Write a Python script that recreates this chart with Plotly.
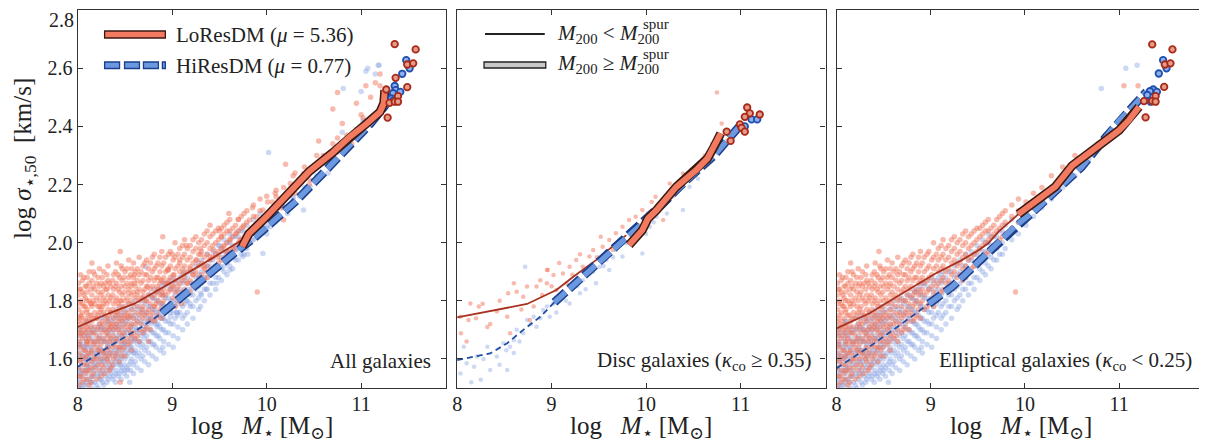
import plotly.graph_objects as go

# The page body keeps its default 8px margin: the figure is sized so that it
# exactly fills the rest of the 1207x445 window, and window pixels are mapped below.
OFF = 8
W, H = 1207 - OFF, 445 - OFF
FONT = "'Liberation Serif', 'DejaVu Serif', serif"

# ---------------- data ----------------
X_TICKS = [8, 9, 10, 11]
Y_TICKS = [1.6, 1.8, 2.0, 2.2, 2.4, 2.6, 2.8]
X_RANGE = [8, 11.9]
Y_RANGE = [1.5, 2.8005]

# Elliptical galaxies cloud, LoResDM (x column, y values)
ELL_LO = [
    (8.01, [1.51, 1.57, 1.62, 1.66, 1.70, 1.73, 1.77, 1.82, 1.86]),
    (8.02, [1.54, 1.60, 1.65, 1.69, 1.74, 1.79, 1.84]),
    (8.03, [1.54, 1.59, 1.64, 1.68, 1.72, 1.75, 1.80, 1.84, 1.89]),
    (8.05, [1.52, 1.56, 1.61, 1.67, 1.71, 1.76, 1.79, 1.83, 1.87]),
    (8.065, [1.53, 1.58, 1.63, 1.70, 1.73, 1.78, 1.82, 1.88]),
    (8.08, [1.55, 1.60, 1.63, 1.69, 1.74, 1.78, 1.81, 1.85]),
    (8.095, [1.56, 1.61, 1.66, 1.71, 1.76, 1.80, 1.85]),
    (8.10, [1.53, 1.58, 1.65, 1.68, 1.72, 1.77, 1.83, 1.88]),
    (8.12, [1.51, 1.56, 1.62, 1.67, 1.70, 1.75, 1.80, 1.86, 1.90]),
    (8.14, [1.52, 1.57, 1.62, 1.66, 1.71, 1.75, 1.79, 1.84]),
    (8.15, [1.54, 1.59, 1.63, 1.69, 1.73, 1.78, 1.82, 1.87]),
    (8.165, [1.55, 1.60, 1.65, 1.69, 1.74, 1.80, 1.85, 1.90]),
    (8.18, [1.57, 1.61, 1.66, 1.71, 1.76, 1.79, 1.84, 1.89]),
    (8.20, [1.53, 1.60, 1.64, 1.68, 1.74, 1.81, 1.86]),
    (8.215, [1.58, 1.63, 1.66, 1.70, 1.75, 1.78, 1.83, 1.88]),
    (8.23, [1.56, 1.62, 1.67, 1.72, 1.76, 1.80, 1.85, 1.91]),
    (8.245, [1.54, 1.60, 1.65, 1.71, 1.77, 1.82, 1.86]),
    (8.26, [1.58, 1.63, 1.69, 1.73, 1.78, 1.83, 1.88]),
    (8.275, [1.57, 1.62, 1.67, 1.72, 1.76, 1.81, 1.85, 1.90]),
    (8.29, [1.55, 1.61, 1.66, 1.70, 1.75, 1.80, 1.86]),
    (8.31, [1.60, 1.63, 1.69, 1.74, 1.79, 1.84, 1.89]),
    (8.32, [1.59, 1.64, 1.68, 1.73, 1.77, 1.82, 1.87, 1.92]),
    (8.335, [1.56, 1.61, 1.66, 1.70, 1.75, 1.80, 1.86]),
    (8.35, [1.57, 1.62, 1.67, 1.71, 1.76, 1.81, 1.85]),
    (8.37, [1.58, 1.64, 1.68, 1.72, 1.77, 1.82, 1.87]),
    (8.38, [1.60, 1.65, 1.70, 1.74, 1.79, 1.84, 1.89]),
    (8.40, [1.61, 1.66, 1.71, 1.75, 1.80, 1.85, 1.90]),
    (8.41, [1.62, 1.67, 1.72, 1.76, 1.81, 1.86, 1.93]),
    (8.43, [1.64, 1.70, 1.73, 1.79, 1.84, 1.89]),
    (8.44, [1.59, 1.64, 1.69, 1.74, 1.78, 1.83, 1.88]),
    (8.46, [1.61, 1.66, 1.71, 1.75, 1.80, 1.85, 1.92]),
    (8.47, [1.63, 1.68, 1.73, 1.77, 1.82, 1.87, 1.91]),
    (8.49, [1.64, 1.69, 1.74, 1.78, 1.83, 1.88]),
    (8.50, [1.61, 1.66, 1.71, 1.75, 1.80, 1.85, 1.90]),
    (8.52, [1.67, 1.72, 1.76, 1.81, 1.86, 1.91]),
    (8.54, [1.65, 1.70, 1.74, 1.79, 1.84, 1.88, 1.94]),
    (8.56, [1.66, 1.71, 1.75, 1.80, 1.85, 1.89]),
    (8.57, [1.63, 1.68, 1.72, 1.77, 1.82, 1.86, 1.91]),
    (8.59, [1.69, 1.74, 1.79, 1.83, 1.88, 1.93]),
    (8.61, [1.67, 1.72, 1.76, 1.81, 1.85, 1.90]),
    (8.63, [1.68, 1.73, 1.78, 1.82, 1.87, 1.91]),
    (8.65, [1.66, 1.70, 1.75, 1.80, 1.84, 1.89, 1.95]),
    (8.67, [1.72, 1.76, 1.81, 1.86, 1.90]),
    (8.69, [1.69, 1.74, 1.78, 1.83, 1.87, 1.92]),
    (8.71, [1.70, 1.75, 1.80, 1.84, 1.89, 1.93]),
    (8.73, [1.71, 1.76, 1.80, 1.85, 1.89, 1.94]),
    (8.75, [1.73, 1.77, 1.82, 1.87, 1.91]),
    (8.77, [1.70, 1.75, 1.79, 1.84, 1.88, 1.93]),
    (8.79, [1.76, 1.81, 1.85, 1.90, 1.95]),
    (8.81, [1.73, 1.78, 1.82, 1.87, 1.91, 1.96]),
    (8.83, [1.74, 1.79, 1.83, 1.88, 1.92]),
    (8.85, [1.75, 1.80, 1.84, 1.88, 1.93]),
    (8.87, [1.77, 1.82, 1.86, 1.90, 1.95]),
    (8.89, [1.74, 1.79, 1.83, 1.87, 1.92, 1.97]),
    (8.91, [1.80, 1.84, 1.88, 1.93]),
    (8.93, [1.77, 1.82, 1.86, 1.90, 1.95]),
    (8.96, [1.78, 1.83, 1.87, 1.91, 1.96]),
    (8.98, [1.79, 1.84, 1.88, 1.92, 1.97]),
    (9.01, [1.81, 1.85, 1.89, 1.94]),
    (9.03, [1.78, 1.83, 1.87, 1.91, 1.95, 2.00]),
    (9.06, [1.80, 1.85, 1.92, 1.96]),
    (9.08, [1.82, 1.86, 1.90, 1.94, 1.98]),
    (9.11, [1.83, 1.87, 1.91, 1.95, 1.99]),
    (9.13, [1.84, 1.88, 1.92, 1.96, 2.01]),
    (9.16, [1.86, 1.90, 1.94, 1.98]),
    (9.19, [1.83, 1.87, 1.91, 1.95, 1.99]),
    (9.22, [1.85, 1.89, 1.93, 1.97, 2.01]),
    (9.25, [1.86, 1.90, 1.94, 1.98, 2.02]),
    (9.28, [1.88, 1.92, 1.96, 2.00]),
    (9.31, [1.89, 1.93, 1.97, 2.01]),
    (9.34, [1.87, 1.91, 1.95, 1.99, 2.03]),
    (9.37, [1.88, 1.92, 1.96, 2.00, 2.04]),
    (9.40, [1.90, 1.94, 1.98, 2.02]),
    (9.43, [1.91, 1.95, 1.99, 2.03]),
    (9.46, [1.92, 1.96, 2.00, 2.04]),
    (9.49, [1.93, 1.97, 2.01, 2.05]),
    (9.52, [1.94, 1.98, 2.02, 2.05]),
    (9.55, [1.95, 1.99, 2.03, 2.06]),
    (9.58, [1.96, 2.00, 2.04, 2.07]),
    (9.61, [1.97, 2.01, 2.04, 2.08]),
    (9.64, [1.98, 2.02, 2.05]),
    (9.67, [1.99, 2.03, 2.06]),
    (9.70, [2.00, 2.04, 2.08]),
    (9.73, [2.01, 2.05, 2.09]),
    (9.76, [2.02, 2.06, 2.10]),
    (9.79, [2.03, 2.07, 2.11]),
    (9.86, [2.05, 2.09, 2.13]),
    (9.93, [2.07, 2.11, 2.15]),
    (10.01, [2.10, 2.14]),
    (10.09, [2.12, 2.17]),
    (10.18, [2.15, 2.19]),
    (10.28, [2.18, 2.23]),
    (10.40, [2.22, 2.26]),
    (10.53, [2.26, 2.30]),
    (10.68, [2.31]),
    (10.85, [2.37]),
    (11.02, [2.43]),
    (11.05, [2.54]),
    (11.20, [2.54]),
    (9.90, [1.83]),
    (8.45, [1.97]),
    (8.15, [1.93]),
]

# Elliptical galaxies cloud, HiResDM
ELL_HI = [
    (8.01, [1.50, 1.53, 1.57, 1.60, 1.64, 1.68]),
    (8.02, [1.52, 1.56, 1.61, 1.65, 1.70]),
    (8.03, [1.51, 1.55, 1.59, 1.62, 1.66, 1.71]),
    (8.05, [1.50, 1.54, 1.58, 1.61, 1.65, 1.69]),
    (8.065, [1.51, 1.56, 1.60, 1.64, 1.68]),
    (8.08, [1.52, 1.56, 1.60, 1.63, 1.67, 1.72]),
    (8.095, [1.53, 1.57, 1.61, 1.65, 1.69, 1.73]),
    (8.10, [1.51, 1.55, 1.58, 1.62, 1.66, 1.70]),
    (8.12, [1.53, 1.57, 1.61, 1.64, 1.68, 1.73]),
    (8.14, [1.52, 1.56, 1.60, 1.64, 1.69]),
    (8.15, [1.50, 1.54, 1.59, 1.63, 1.67, 1.71]),
    (8.165, [1.54, 1.58, 1.62, 1.66, 1.70]),
    (8.18, [1.52, 1.56, 1.60, 1.65, 1.69, 1.74]),
    (8.20, [1.51, 1.55, 1.58, 1.62, 1.66, 1.70]),
    (8.215, [1.50, 1.54, 1.59, 1.63, 1.67, 1.71]),
    (8.23, [1.53, 1.57, 1.61, 1.64, 1.68, 1.72]),
    (8.245, [1.55, 1.59, 1.63, 1.66, 1.70, 1.74]),
    (8.26, [1.52, 1.56, 1.60, 1.63, 1.67, 1.71, 1.75]),
    (8.275, [1.51, 1.55, 1.59, 1.62, 1.66, 1.70]),
    (8.29, [1.54, 1.58, 1.62, 1.66, 1.70, 1.74]),
    (8.31, [1.52, 1.56, 1.60, 1.64, 1.68, 1.72]),
    (8.32, [1.53, 1.57, 1.61, 1.65, 1.69, 1.73]),
    (8.335, [1.54, 1.58, 1.62, 1.66, 1.70, 1.74]),
    (8.35, [1.55, 1.59, 1.63, 1.67, 1.71, 1.76]),
    (8.37, [1.53, 1.57, 1.61, 1.65, 1.69, 1.73]),
    (8.38, [1.54, 1.58, 1.62, 1.66, 1.70, 1.74]),
    (8.40, [1.52, 1.55, 1.59, 1.63, 1.67, 1.71, 1.75]),
    (8.41, [1.56, 1.60, 1.64, 1.68, 1.72, 1.77]),
    (8.43, [1.54, 1.58, 1.62, 1.66, 1.70, 1.74]),
    (8.44, [1.55, 1.59, 1.63, 1.67, 1.71, 1.75]),
    (8.46, [1.53, 1.56, 1.60, 1.64, 1.68, 1.72, 1.76]),
    (8.47, [1.57, 1.61, 1.65, 1.69, 1.73, 1.78]),
    (8.49, [1.55, 1.58, 1.62, 1.66, 1.70, 1.74]),
    (8.50, [1.56, 1.60, 1.64, 1.68, 1.72, 1.76]),
    (8.52, [1.54, 1.57, 1.61, 1.65, 1.69, 1.73, 1.77]),
    (8.54, [1.58, 1.62, 1.66, 1.70, 1.74, 1.79]),
    (8.56, [1.56, 1.59, 1.63, 1.67, 1.71, 1.75]),
    (8.57, [1.60, 1.64, 1.68, 1.72, 1.77]),
    (8.59, [1.55, 1.58, 1.62, 1.66, 1.70, 1.74, 1.78]),
    (8.61, [1.59, 1.63, 1.67, 1.71, 1.75, 1.80]),
    (8.63, [1.57, 1.61, 1.65, 1.69, 1.73, 1.77]),
    (8.65, [1.62, 1.66, 1.70, 1.74, 1.78]),
    (8.67, [1.56, 1.60, 1.64, 1.68, 1.72, 1.76, 1.80]),
    (8.69, [1.61, 1.65, 1.69, 1.73, 1.77, 1.81]),
    (8.71, [1.59, 1.63, 1.67, 1.71, 1.75, 1.79]),
    (8.73, [1.64, 1.68, 1.72, 1.76, 1.80]),
    (8.75, [1.58, 1.62, 1.66, 1.70, 1.74, 1.78, 1.82]),
    (8.77, [1.66, 1.70, 1.74, 1.78, 1.82]),
    (8.79, [1.61, 1.65, 1.69, 1.73, 1.77, 1.81]),
    (8.81, [1.65, 1.69, 1.73, 1.77, 1.81, 1.84]),
    (8.83, [1.60, 1.64, 1.68, 1.72, 1.76, 1.80, 1.83]),
    (8.85, [1.68, 1.72, 1.76, 1.80, 1.83]),
    (8.87, [1.63, 1.67, 1.71, 1.75, 1.79, 1.84]),
    (8.89, [1.70, 1.74, 1.78, 1.82, 1.85]),
    (8.91, [1.62, 1.66, 1.70, 1.74, 1.78, 1.82, 1.86]),
    (8.93, [1.69, 1.73, 1.77, 1.81, 1.86]),
    (8.96, [1.65, 1.69, 1.73, 1.77, 1.81, 1.85]),
    (8.98, [1.72, 1.76, 1.80, 1.84, 1.87]),
    (9.01, [1.64, 1.68, 1.72, 1.76, 1.80, 1.84, 1.88]),
    (9.03, [1.74, 1.78, 1.82, 1.86]),
    (9.06, [1.67, 1.71, 1.75, 1.79, 1.83, 1.87]),
    (9.08, [1.76, 1.80, 1.84, 1.88]),
    (9.11, [1.70, 1.74, 1.78, 1.82, 1.86, 1.89]),
    (9.13, [1.75, 1.79, 1.83, 1.87, 1.90]),
    (9.16, [1.72, 1.76, 1.80, 1.84, 1.88]),
    (9.19, [1.78, 1.82, 1.86, 1.90]),
    (9.22, [1.74, 1.78, 1.82, 1.86, 1.90]),
    (9.25, [1.80, 1.84, 1.88, 1.92]),
    (9.28, [1.77, 1.81, 1.85, 1.89, 1.93]),
    (9.31, [1.82, 1.86, 1.90, 1.94]),
    (9.34, [1.80, 1.84, 1.88, 1.92]),
    (9.37, [1.84, 1.88, 1.92, 1.96]),
    (9.40, [1.82, 1.86, 1.90, 1.94]),
    (9.43, [1.86, 1.90, 1.94, 1.97]),
    (9.46, [1.84, 1.88, 1.92, 1.96]),
    (9.49, [1.88, 1.92, 1.96, 1.99]),
    (9.52, [1.87, 1.91, 1.95, 1.98]),
    (9.55, [1.90, 1.94, 1.97, 2.01]),
    (9.58, [1.89, 1.93, 1.97, 2.00]),
    (9.61, [1.92, 1.96, 2.00, 2.03]),
    (9.64, [1.91, 1.95, 1.99, 2.02]),
    (9.67, [1.94, 1.98, 2.02]),
    (9.70, [1.94, 1.98, 2.02]),
    (9.73, [1.96, 2.00, 2.04]),
    (9.76, [1.96, 2.00, 2.04]),
    (9.79, [1.98, 2.02, 2.06]),
    (9.86, [2.01, 2.05, 2.08]),
    (9.93, [2.03, 2.07, 2.10]),
    (10.01, [2.06, 2.10]),
    (10.09, [2.09, 2.13]),
    (10.18, [2.12, 2.16]),
    (10.28, [2.15, 2.19]),
    (10.40, [2.19, 2.23]),
    (10.53, [2.23, 2.27]),
    (10.68, [2.29]),
    (10.85, [2.35]),
    (11.02, [2.42]),
    (10.81, [2.53]),
    (11.07, [2.60]),
    (11.19, [2.61]),
    (8.55, [1.52]),
    (8.90, [1.64]),
    (9.30, [1.78]),
]

# Disc galaxies cloud (x, y)
DISC_LO = [
    (8.035, 1.745), (8.14, 1.791), (8.23, 1.78), (8.27, 1.79), (8.12, 1.734), (8.35, 1.72),
    (8.04, 1.688), (8.10, 1.66), (8.42, 1.763), (8.54, 1.826), (8.63, 1.831), (8.70, 1.814),
    (8.74, 1.849), (8.84, 1.849), (8.88, 1.871), (8.95, 1.86), (9.02, 1.889), (8.96, 1.906),
    (9.12, 1.894), (9.19, 1.917), (9.26, 1.94), (9.33, 1.917), (9.40, 1.952), (9.44, 1.975),
    (9.54, 1.986), (9.61, 2.009), (9.68, 2.032), (9.75, 2.055), (9.82, 2.078), (9.89, 2.089),
    (9.65, 1.975), (8.81, 1.78), (8.53, 1.745), (8.32, 1.71), (8.56, 1.688), (8.77, 1.734),
    (9.05, 1.837), (9.16, 1.86), (8.95, 1.906), (9.96, 2.112), (10.10, 2.158), (10.25, 2.204),
    (10.39, 2.238), (10.46, 2.215), (10.18, 2.078), (10.55, 2.27), (10.62, 2.30), (10.70, 2.34),
    (10.80, 2.41), (10.75, 2.517), (9.08, 1.93), (9.22, 1.89), (9.30, 1.96), (9.36, 1.90),
    (9.48, 1.95), (9.52, 2.02), (9.58, 1.97), (9.72, 2.01), (9.85, 2.04), (9.92, 2.06),
    (10.02, 2.10), (10.06, 2.14), (10.15, 2.12), (10.30, 2.17), (8.90, 1.82), (8.60, 1.86),
    (8.45, 1.80), (8.20, 1.74), (8.68, 1.77), (9.00, 1.85),
]
DISC_HI = [
    (8.035, 1.55), (8.10, 1.585), (8.18, 1.573), (8.21, 1.608), (8.07, 1.642), (8.32, 1.642),
    (8.42, 1.608), (8.49, 1.654), (8.53, 1.562), (8.56, 1.642), (8.60, 1.665), (8.63, 1.70),
    (8.70, 1.688), (8.74, 1.734), (8.72, 1.917), (8.81, 1.745), (8.84, 1.711), (8.91, 1.768),
    (8.98, 1.745), (9.02, 1.791), (9.09, 1.803), (9.12, 1.826), (9.19, 1.791), (9.23, 1.849),
    (9.30, 1.826), (9.33, 1.871), (9.40, 1.894), (9.47, 1.86), (9.51, 1.917), (9.58, 1.94),
    (9.61, 1.906), (9.68, 1.975), (9.75, 1.952), (9.79, 1.998), (9.89, 2.032), (9.96, 1.963),
    (10.04, 2.055), (10.11, 2.089), (10.18, 2.124), (10.28, 2.158), (10.39, 2.112), (10.46, 2.192),
    (8.35, 1.562), (8.25, 1.528), (10.55, 2.22), (10.65, 2.27), (10.75, 2.31), (10.85, 2.35),
    (10.95, 2.39), (8.60, 1.62), (8.66, 1.66), (8.78, 1.72), (8.88, 1.74), (8.95, 1.78),
    (9.05, 1.76), (9.15, 1.80), (9.27, 1.85), (9.36, 1.84), (9.44, 1.90), (9.55, 1.92),
    (9.65, 1.95), (9.71, 1.99), (9.85, 2.01), (9.92, 2.05), (10.00, 2.03), (10.08, 2.07),
    (10.22, 2.10), (8.45, 1.58), (8.52, 1.63), (8.15, 1.52), (8.28, 1.60),
]

# Intermediate galaxies (only in "All galaxies")
INT_LO = [
    (9.30, 1.98), (9.50, 2.04), (9.70, 2.08), (9.85, 2.12), (10.00, 2.16), (10.10, 2.18),
    (10.30, 2.24), (10.45, 2.20), (10.60, 2.30), (10.75, 2.36), (10.90, 2.34), (11.00, 2.44),
    (11.10, 2.50), (10.70, 2.46), (11.15, 2.55), (8.30, 1.84), (8.60, 1.89), (9.00, 1.96),
    (8.90, 2.02), (9.15, 1.99), (9.40, 2.06), (9.60, 2.10), (10.20, 2.27), (10.55, 2.35),
    (10.95, 2.48), (11.20, 2.58), (8.45, 1.52), (8.75, 1.66), (9.10, 1.79),
]
INT_HI = [
    (9.40, 1.92), (9.60, 1.96), (9.80, 1.96), (10.00, 2.05), (10.20, 2.12), (10.35, 2.16),
    (10.50, 2.26), (10.65, 2.24), (10.80, 2.38), (10.95, 2.36), (11.00, 2.52), (11.15, 2.58),
    (10.02, 2.31), (11.18, 2.61), (11.05, 2.59), (9.05, 1.76), (8.70, 1.70), (9.20, 1.84),
    (9.50, 1.99), (9.70, 2.04), (10.10, 2.09), (10.40, 2.22), (10.70, 2.30), (8.40, 1.66),
    (8.90, 1.79),
]

# Median lines: thin part (M200 < M200spur) and thick part (M200 >= M200spur)
P1_LO_THIN_X = [8.0, 8.33, 8.6, 8.86, 9.04, 9.39, 9.63, 9.74]
P1_LO_THIN_Y = [1.71, 1.757, 1.79, 1.837, 1.872, 1.94, 1.986, 2.009]
P1_LO_THICK_X = [9.74, 9.81, 10.0, 10.2, 10.45, 10.7, 10.88, 11.06, 11.2, 11.24, 11.25]
P1_LO_THICK_Y = [1.986, 2.03, 2.09, 2.16, 2.245, 2.31, 2.364, 2.41, 2.45, 2.48, 2.525]
P1_HI_THIN_X = [8.0, 8.33, 8.68, 8.89]
P1_HI_THIN_Y = [1.573, 1.642, 1.711, 1.757]
P1_HI_THICK_X = [8.89, 9.14, 9.39, 9.63, 9.88, 10.16, 10.30, 10.6, 10.9, 11.1, 11.25, 11.33]
P1_HI_THICK_Y = [1.757, 1.826, 1.895, 1.957, 2.02, 2.10, 2.14, 2.24, 2.34, 2.41, 2.47, 2.51]

P2_LO_THIN_X = [8.0, 8.74, 9.05, 9.23, 9.47, 9.68, 9.79]
P2_LO_THIN_Y = [1.743, 1.789, 1.837, 1.883, 1.94, 1.998, 2.026]
P2_LO_THICK_X = [9.82, 9.96, 10.02, 10.11, 10.32, 10.53, 10.65, 10.72, 10.79]
P2_LO_THICK_Y = [1.992, 2.043, 2.083, 2.112, 2.192, 2.25, 2.29, 2.33, 2.376]
P2_HI_THIN_X = [8.0, 8.35, 8.53, 8.70, 8.88, 9.03]
P2_HI_THIN_Y = [1.596, 1.619, 1.654, 1.70, 1.745, 1.795]
P2_HI_THICK_X = [9.03, 9.33, 9.58, 9.75, 9.96, 10.18, 10.39, 10.55, 10.72, 10.88, 11.0]
P2_HI_THICK_Y = [1.795, 1.883, 1.952, 2.003, 2.066, 2.135, 2.204, 2.25, 2.30, 2.36, 2.405]

P3_LO_THIN_X = [8.0, 8.35, 8.70, 9.05, 9.33, 9.51, 9.61, 9.72, 9.93]
P3_LO_THIN_Y = [1.705, 1.757, 1.826, 1.894, 1.94, 1.975, 1.998, 2.038, 2.098]
P3_LO_THICK_X = [9.93, 10.1, 10.32, 10.5, 10.7, 10.85, 11.0, 11.1, 11.21]
P3_LO_THICK_Y = [2.098, 2.14, 2.192, 2.265, 2.31, 2.35, 2.387, 2.42, 2.467]
P3_HI_THIN_X = [8.0, 8.35, 8.7, 8.98]
P3_HI_THIN_Y = [1.568, 1.642, 1.723, 1.79]
P3_HI_THICK_X = [8.98, 9.23, 9.47, 9.68, 9.89, 10.11, 10.28, 10.6, 10.85, 11.0, 11.15, 11.29]
P3_HI_THICK_Y = [1.79, 1.849, 1.923, 1.986, 2.055, 2.112, 2.164, 2.26, 2.36, 2.42, 2.47, 2.52]

# Individual massive galaxies (big circles)
P1_BIG_LO = [(11.355, 2.683), (11.577, 2.665), (11.488, 2.613), (11.551, 2.617), (11.365, 2.567),
             (11.488, 2.535), (11.266, 2.527), (11.39, 2.504), (11.30, 2.481), (11.355, 2.485),
             (11.39, 2.485), (11.28, 2.43)]
P1_BIG_HI = [(11.477, 2.628), (11.513, 2.60), (11.435, 2.581), (11.355, 2.539), (11.365, 2.525),
             (11.414, 2.519), (11.337, 2.514), (11.32, 2.496), (11.345, 2.49)]
P2_BIG_LO = [(11.07, 2.465), (11.098, 2.445), (11.045, 2.433), (11.203, 2.441), (10.993, 2.407),
             (11.01, 2.395), (11.045, 2.382), (10.895, 2.35), (10.853, 2.382)]
P2_BIG_HI = [(11.116, 2.424), (11.176, 2.424), (11.045, 2.40)]
P3_BIG_LO = [(11.35, 2.682), (11.565, 2.665), (11.484, 2.613), (11.544, 2.617), (11.477, 2.536),
             (11.386, 2.504), (11.263, 2.487), (11.35, 2.487), (11.386, 2.485), (11.28, 2.431)]
P3_BIG_HI = [(11.466, 2.628), (11.502, 2.60), (11.42, 2.582), (11.361, 2.527), (11.326, 2.521),
             (11.40, 2.519), (11.298, 2.508), (11.334, 2.485)]

PANEL_LABELS = ["All galaxies",
                "Disc galaxies (<i>κ</i><sub>co</sub> ≥ 0.35)",
                "Elliptical galaxies (<i>κ</i><sub>co</sub> &lt; 0.25)"]
LEGEND_LO = "LoResDM (<i>μ</i> = 5.36)"
LEGEND_HI = "HiResDM (<i>μ</i> = 0.77)"
X_TITLE = "log&nbsp;&nbsp; <i>M</i><sub>⋆</sub> [M<sub>⊙</sub>]"
Y_TITLE = "log <i>σ</i><sub>⋆,50</sub>&nbsp; [km/s]"

# ---------------- styles ----------------
RED_CLOUD = "rgba(240,118,92,0.5)"
BLUE_CLOUD = "rgba(135,162,226,0.42)"
RED_THIN = "#a8321f"
BLUE_THIN = "#1f4ea6"
RED_FILL = "#f27a60"
RED_EDGE = "#3c1a12"
BLUE_FILL = "#6c98e0"
BLUE_EDGE = "#1a3f8c"


def flat_cols(cols):
    xs, ys = [], []
    for x, yl in cols:
        for y in yl:
            xs.append(x)
            ys.append(y)
    return xs, ys


def unzip(pairs):
    return [p[0] for p in pairs], [p[1] for p in pairs]


ell_lo = flat_cols(ELL_LO)
ell_hi = flat_cols(ELL_HI)
disc_lo = unzip(DISC_LO)
disc_hi = unzip(DISC_HI)
int_lo = unzip(INT_LO)
int_hi = unzip(INT_HI)

all_lo = (ell_lo[0] + disc_lo[0] + int_lo[0], ell_lo[1] + disc_lo[1] + int_lo[1])
all_hi = (ell_hi[0] + disc_hi[0] + int_hi[0], ell_hi[1] + disc_hi[1] + int_hi[1])

panels = [
    dict(lo=all_lo, hi=all_hi,
         lo_thin=(P1_LO_THIN_X, P1_LO_THIN_Y), lo_thick=(P1_LO_THICK_X, P1_LO_THICK_Y),
         hi_thin=(P1_HI_THIN_X, P1_HI_THIN_Y), hi_thick=(P1_HI_THICK_X, P1_HI_THICK_Y),
         big_lo=unzip(P1_BIG_LO), big_hi=unzip(P1_BIG_HI)),
    dict(lo=disc_lo, hi=disc_hi,
         lo_thin=(P2_LO_THIN_X, P2_LO_THIN_Y), lo_thick=(P2_LO_THICK_X, P2_LO_THICK_Y),
         hi_thin=(P2_HI_THIN_X, P2_HI_THIN_Y), hi_thick=(P2_HI_THICK_X, P2_HI_THICK_Y),
         big_lo=unzip(P2_BIG_LO), big_hi=unzip(P2_BIG_HI)),
    dict(lo=ell_lo, hi=ell_hi,
         lo_thin=(P3_LO_THIN_X, P3_LO_THIN_Y), lo_thick=(P3_LO_THICK_X, P3_LO_THICK_Y),
         hi_thin=(P3_HI_THIN_X, P3_HI_THIN_Y), hi_thick=(P3_HI_THICK_X, P3_HI_THICK_Y),
         big_lo=unzip(P3_BIG_LO), big_hi=unzip(P3_BIG_HI)),
]

fig = go.Figure()

for i, p in enumerate(panels):
    xa = "x" if i == 0 else f"x{i + 1}"
    ya = "y" if i == 0 else f"y{i + 1}"
    kw = dict(xaxis=xa, yaxis=ya, showlegend=False, hoverinfo="skip")
    msize = 5.5 if i != 1 else 4.5
    fig.add_trace(go.Scatter(x=p["hi"][0], y=p["hi"][1], mode="markers",
                             marker=dict(size=msize, color=BLUE_CLOUD, line=dict(width=0)), **kw))
    fig.add_trace(go.Scatter(x=p["lo"][0], y=p["lo"][1], mode="markers",
                             marker=dict(size=msize, color=RED_CLOUD, line=dict(width=0)), **kw))
    fig.add_trace(go.Scatter(x=p["hi_thin"][0], y=p["hi_thin"][1], mode="lines",
                             line=dict(color=BLUE_THIN, width=1.8, dash="6px,4px"), **kw))
    fig.add_trace(go.Scatter(x=p["lo_thin"][0], y=p["lo_thin"][1], mode="lines",
                             line=dict(color=RED_THIN, width=1.8), **kw))
    fig.add_trace(go.Scatter(x=p["hi_thick"][0], y=p["hi_thick"][1], mode="lines",
                             line=dict(color=BLUE_EDGE, width=8.5, dash="15px,5px"), **kw))
    fig.add_trace(go.Scatter(x=p["hi_thick"][0], y=p["hi_thick"][1], mode="lines",
                             line=dict(color=BLUE_FILL, width=5.5, dash="15px,5px"), **kw))
    fig.add_trace(go.Scatter(x=p["lo_thick"][0], y=p["lo_thick"][1], mode="lines",
                             line=dict(color=RED_EDGE, width=9), **kw))
    fig.add_trace(go.Scatter(x=p["lo_thick"][0], y=p["lo_thick"][1], mode="lines",
                             line=dict(color=RED_FILL, width=6), **kw))
    fig.add_trace(go.Scatter(x=p["big_hi"][0], y=p["big_hi"][1], mode="markers",
                             marker=dict(size=6.5, color="#8fb0ea", line=dict(color="#1f50b0", width=1.8)), **kw))
    fig.add_trace(go.Scatter(x=p["big_lo"][0], y=p["big_lo"][1], mode="markers",
                             marker=dict(size=6.5, color="#e69a88", line=dict(color="#a82a18", width=1.8)), **kw))


def px(x):
    """window pixel -> paper x"""
    return (x - OFF) / W


def py(y):
    """window pixel -> paper y"""
    return 1 - (y - OFF) / H


x_domains = [[px(73), px(443)], [px(454), px(824)], [px(835), px(1204)]]
y_domain = [py(388), py(10)]

axis_common = dict(showline=True, linecolor="#333", linewidth=1.3, mirror="ticks",
                   ticks="inside", ticklen=5, tickwidth=1.2, tickcolor="#333",
                   showgrid=False, zeroline=False,
                   tickfont=dict(family=FONT, size=20, color="#222"))

layout = dict(width=W, height=H, margin=dict(l=0, r=0, t=0, b=0),
              paper_bgcolor="white", plot_bgcolor="white", showlegend=False)
for i in range(3):
    xk = "xaxis" if i == 0 else f"xaxis{i + 1}"
    yk = "yaxis" if i == 0 else f"yaxis{i + 1}"
    layout[xk] = dict(domain=x_domains[i], range=X_RANGE, tickvals=X_TICKS,
                      ticklabelstandoff=-2,
                      anchor="y" if i == 0 else f"y{i + 1}", **axis_common)
    layout[yk] = dict(domain=y_domain, range=Y_RANGE, tickvals=Y_TICKS,
                      tickformat=".1f", showticklabels=(i == 0),
                      anchor="x" if i == 0 else f"x{i + 1}", **axis_common)
fig.update_layout(**layout)

annotations = []
shapes = []
txt = dict(family=FONT, size=21, color="#222")
title_font = dict(family=FONT, size=25, color="#222")

# the top tick label (2.8) sits on the window edge, where the axis would drop it
annotations.append(dict(x=px(70), y=1.0, xref="paper", yref="paper", text=f"{Y_TICKS[-1]:.1f}",
                        showarrow=False, xanchor="right", yanchor="top", borderpad=0,
                        font=dict(family=FONT, size=20, color="#222")))

for i, cx in enumerate([258, 639, 1020]):
    annotations.append(dict(x=px(cx), y=py(427), xref="paper", yref="paper", text=X_TITLE,
                            showarrow=False, xanchor="center", yanchor="middle", font=title_font))
annotations.append(dict(x=px(19), y=py(158), xref="paper", yref="paper", textangle=-90,
                        text=Y_TITLE, showarrow=False, xanchor="center", yanchor="middle",
                        font=title_font))

for lab, rx in zip(PANEL_LABELS, [430, 812, 1194]):
    annotations.append(dict(x=px(rx), y=py(361), xref="paper", yref="paper", text=lab,
                            showarrow=False, xanchor="right", yanchor="middle", font=txt))

shapes.append(dict(type="rect", xref="paper", yref="paper", x0=px(100), x1=px(161),
                   y0=py(38), y1=py(31), fillcolor=RED_FILL, line=dict(color=RED_EDGE, width=1.3)))
for a, b in [(100, 115), (120, 135), (139, 154), (158, 161)]:
    shapes.append(dict(type="rect", xref="paper", yref="paper", x0=px(a), x1=px(b),
                       y0=py(68.5), y1=py(62), fillcolor=BLUE_FILL, line=dict(color=BLUE_EDGE, width=1.3)))
annotations.append(dict(x=px(170), y=py(35), xref="paper", yref="paper", text=LEGEND_LO,
                        showarrow=False, xanchor="left", yanchor="middle", font=txt))
annotations.append(dict(x=px(170), y=py(66), xref="paper", yref="paper", text=LEGEND_HI,
                        showarrow=False, xanchor="left", yanchor="middle", font=txt))

shapes.append(dict(type="line", xref="paper", yref="paper", x0=px(482), x1=px(542),
                   y0=py(34), y1=py(34), line=dict(color="#222", width=1.8)))
shapes.append(dict(type="rect", xref="paper", yref="paper", x0=px(481), x1=px(543),
                   y0=py(68), y1=py(62), fillcolor="#c8c8c8", line=dict(color="#222", width=1.3)))
annotations.append(dict(x=px(552), y=py(34), xref="paper", yref="paper",
                        text="<i>M</i><sub>200</sub> &lt; <i>M</i><sub>200</sub>",
                        showarrow=False, xanchor="left", yanchor="middle", font=txt))
annotations.append(dict(x=px(552), y=py(64), xref="paper", yref="paper",
                        text="<i>M</i><sub>200</sub> ≥ <i>M</i><sub>200</sub>",
                        showarrow=False, xanchor="left", yanchor="middle", font=txt))
for yy in [24, 54]:
    annotations.append(dict(x=px(639), y=py(yy), xref="paper", yref="paper", text="spur",
                            showarrow=False, xanchor="left", yanchor="middle",
                            font=dict(family=FONT, size=15, color="#222")))

fig.update_layout(annotations=annotations, shapes=shapes)
fig.write_html("out.html", config={"displayModeBar": False})
